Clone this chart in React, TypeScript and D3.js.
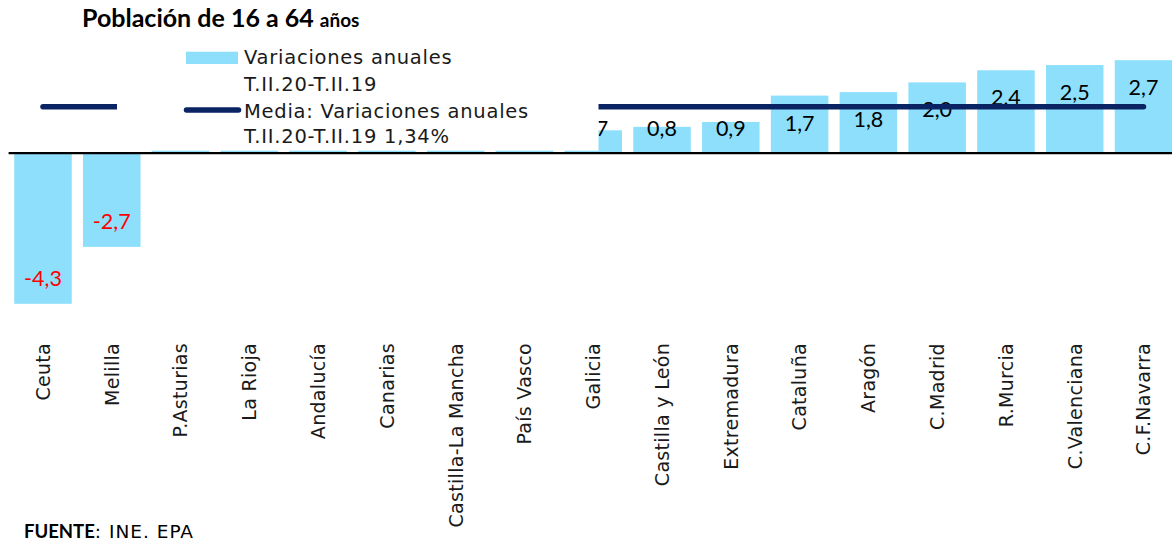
import React from "react";
import * as d3 from "d3";

const categories = [
  "Ceuta", "Melilla", "P.Asturias", "La Rioja", "Andalucía", "Canarias",
  "Castilla-La Mancha", "País Vasco", "Galicia", "Castilla y León", "Extremadura",
  "Cataluña", "Aragón", "C.Madrid", "R.Murcia", "C.Valenciana", "C.F.Navarra",
];
const values = [-4.34, -2.7, 0.1, 0.2, 0.3, 0.4, 0.5, 0.6, 0.66, 0.76, 0.9, 1.66, 1.76, 2.04, 2.39, 2.54, 2.68];
const meanValue = 1.34;
const titleMain = "Población de 16 a 64 ";
const titleSmall = "años";
const legendLines1 = ["Variaciones anuales", "T.II.20-T.II.19"];
const legendLines2 = ["Media: Variaciones anuales", "T.II.20-T.II.19 1,34%"];

const W = 1172;
const H = 546;
const BAR = "#8ddffc";
const NAVY = "#0a2463";
const GOTHIC = "'DejaVu Sans', sans-serif";
const CAL = "Lato, 'Open Sans', sans-serif";

// legend box area (white, covers marks beneath it as in the original)
const LEG = { x0: 117, y0: 40, x1: 598.5, y1: 150.7 };

export default function App() {
  const x = d3.scaleBand<string>().domain(categories).range([8.6, 1177.9]).paddingInner(0.164).paddingOuter(0.082);
  const y = d3.scaleLinear().domain([-5, 3]).range([153.2 + 5 * 34.7, 153.2 - 3 * 34.7]);
  const y0 = y(0);
  const fmt = (v: number) => d3.format(".1f")(v).replace(".", ",").replace("−", "-");
  const line = d3.line<number>().x((_, i) => (x(categories[i]) as number) + x.bandwidth() / 2).y(() => y(meanValue));

  const labels = categories.map((c, i) => {
    const v = values[i];
    const cx = (x(c) as number) + x.bandwidth() / 2;
    const by = v >= 0 ? Math.min(y(v) + 35, y0 - 17) : y(v) - 17.5;
    return { c, v, cx, by };
  });
  // labels fully hidden by the legend box are not drawn
  const visible = labels.filter((l) => !(l.cx + 16 < LEG.x1 && l.cx - 16 > LEG.x0 && l.by < LEG.y1));

  return (
    <svg width={W} height={H} style={{ position: "absolute", left: 0, top: 0, background: "#fff" }}>
      <defs>
        <clipPath id="outsideLegend">
          <path d={`M0,0H${W}V${H}H0Z M${LEG.x0},${LEG.y0}V${LEG.y1}H${LEG.x1}V${LEG.y0}Z`} clipRule="evenodd" />
        </clipPath>
      </defs>
      <rect x={0} y={0} width={W} height={H} fill="#fff" />
      {categories.map((c, i) => {
        const v = values[i];
        const bx = x(c) as number;
        return (
          <rect key={c} x={bx} y={Math.min(y(v), y0)} width={x.bandwidth()} height={Math.abs(y(v) - y0)} fill={BAR} />
        );
      })}
      <line x1={8.6} x2={W} y1={y0} y2={y0} stroke="#000" strokeWidth={2.2} />
      <g clipPath="url(#outsideLegend)">
        {visible.map((l) => (
          <text key={l.c} x={l.cx} y={l.by} textAnchor="middle" fontFamily={CAL} fontSize={21.5} fill={l.v < 0 ? "#ff0000" : "#000"}>
            {fmt(l.v)}
          </text>
        ))}
      </g>
      <path d={line(values) as string} fill="none" stroke={NAVY} strokeWidth={5.5} strokeLinecap="round" />
      {/* legend */}
      <rect x={LEG.x0} y={LEG.y0} width={LEG.x1 - LEG.x0} height={LEG.y1 - LEG.y0} fill="#fff" />
      <rect x={186} y={51.7} width={52} height={12.3} fill={BAR} />
      <line x1={186.5} x2={238.5} y1={110} y2={110} stroke={NAVY} strokeWidth={5.5} strokeLinecap="round" />
      {legendLines1.map((t, i) => (
        <text key={t} x={244} y={64.3 + i * 26.5} fontFamily={GOTHIC} fontSize={19.5} letterSpacing={0.75} fill="#1a1a1a">{t}</text>
      ))}
      {legendLines2.map((t, i) => (
        <text key={t} x={244} y={117.5 + i * 25.5} fontFamily={GOTHIC} fontSize={19.5} letterSpacing={0.75} fill="#1a1a1a">{t}</text>
      ))}
      {/* category labels */}
      {categories.map((c) => {
        const cx = (x(c) as number) + x.bandwidth() / 2;
        return (
          <text key={c} transform={`translate(${cx},343) rotate(-90)`} textAnchor="end" dy="0.36em" fontFamily={GOTHIC} fontSize={19} letterSpacing={0.3} fill="#1a1a1a">
            {c}
          </text>
        );
      })}
      <text x={82} y={27} fontFamily={CAL} fontWeight="bold" fontSize={25} fill="#000">
        {titleMain}
        <tspan fontSize={19}>{titleSmall}</tspan>
      </text>
      <text x={24} y={538.3} fontFamily={GOTHIC} fontSize={18.5} letterSpacing={1} fill="#000">
        <tspan fontFamily={CAL} fontWeight="bold" fontSize={18.5} letterSpacing={0}>FUENTE</tspan>: INE. EPA
      </text>
    </svg>
  );
}
